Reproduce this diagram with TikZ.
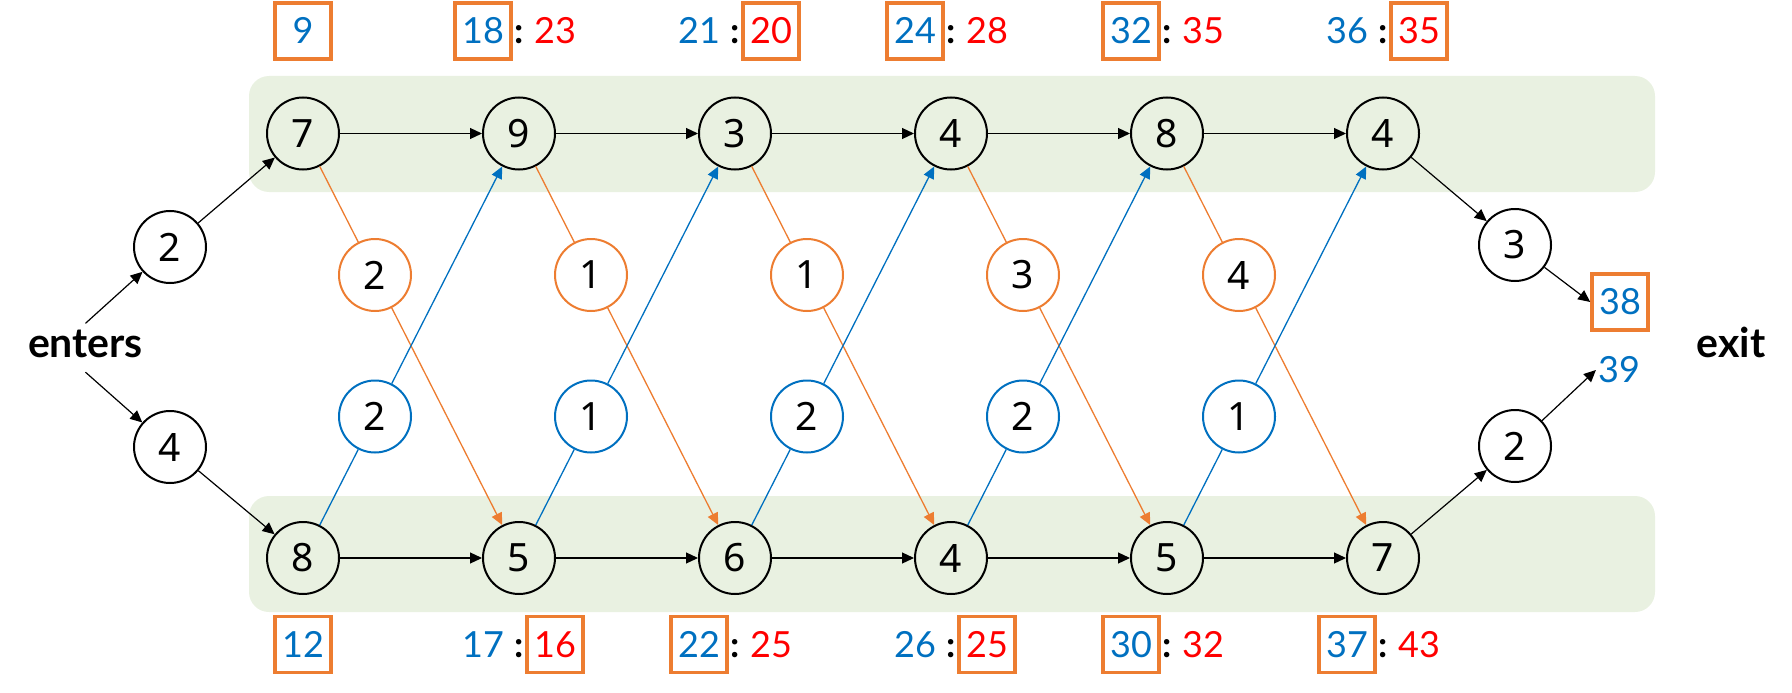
\documentclass[tikz,border=0pt]{standalone}
\usepackage{fontspec}
\setmainfont{Noto Sans}
\newfontfamily\labfamily{Lato}
\newcommand\mylabfont{\labfamily\fontsize{36}{36}\selectfont}
\newcommand\mywordfont{\labfamily\bfseries\fontsize{41}{41}\selectfont}
\newcommand\mynumfont{\fontsize{39}{39}\selectfont}
\usetikzlibrary{arrows.meta}
\definecolor{cor}{HTML}{ED7D31}
\definecolor{cbl}{HTML}{0070C0}
\definecolor{crd}{HTML}{FF0000}
\definecolor{cgr}{HTML}{E9F1E1}
\begin{document}
\begin{tikzpicture}[x=1pt,y=-1pt,
  nd/.style={circle, draw=black, line width=2pt, minimum size=72pt, inner sep=0pt, font=\mynumfont},
  ond/.style={nd, draw=cor},
  bnd/.style={nd, draw=cbl},
  tip/.style={-{Triangle[length=12pt,width=11pt]}},
  arr/.style={line width=1.2pt, black, tip},
  oline/.style={line width=1.3pt, cor},
  bline/.style={line width=1.3pt, cbl},
  lab/.style={font=\mylabfont, text height=25pt, text depth=0pt, inner sep=0pt},
  bx/.style={lab, draw=cor, line width=3.5pt, minimum width=56pt, minimum height=56pt},
  colon/.style={lab, text=black, font=\mylabfont\bfseries},
  word/.style={font=\mywordfont, anchor=base, inner sep=6pt, text depth=9pt},
  band/.style={fill=cgr, rounded corners=20pt}
]
\useasboundingbox (0,0) rectangle (1792,693);
% bands
\fill[band] (249,76) rectangle (1655,192);
\fill[band] (249,496) rectangle (1655,612);
% main nodes
\foreach \v [count=\i] in {7,9,3,4,8,4}
  \node[nd] (t\i) at ({303+216*(\i-1)},133.5) {\v};
\foreach \v [count=\i] in {8,5,6,4,5,7}
  \node[nd] (b\i) at ({303+216*(\i-1)},558) {\v};
\foreach \v [count=\i] in {2,1,1,3,4}
  \node[ond] (o\i) at ({375+216*(\i-1)},275) {\v};
\foreach \v [count=\i] in {2,1,2,2,1}
  \node[bnd] (u\i) at ({375+216*(\i-1)},416.5) {\v};
\node[nd] (l2) at (170,247) {2};
\node[nd] (l4) at (170,447) {4};
\node[nd] (r3) at (1515,245) {3};
\node[nd] (r2) at (1515,446) {2};
\node[word] (enters) at (85.5,357) {enters};
\node[word] (exit) at (1731,357) {exit};
\node[bx, text=cbl] (b38) at (1620,302) {38};
\node[lab, text=cbl, inner sep=2pt] (l39) at (1619,370) {39};
% top labels
\node[bx, text=cbl] (p1) at (303,31) {9};
\node[bx, text=cbl] (p2a) at (483,31) {18};
\node[colon] (p2c) at (519,31) {:};
\node[lab, text=crd] (p2b) at (555,31) {23};
\node[lab, text=cbl] (p3a) at (699,31) {21};
\node[colon] (p3c) at (735,31) {:};
\node[bx, text=crd] (p3b) at (771,31) {20};
\node[bx, text=cbl] (p4a) at (915,31) {24};
\node[colon] (p4c) at (951,31) {:};
\node[lab, text=crd] (p4b) at (987,31) {28};
\node[bx, text=cbl] (p5a) at (1131,31) {32};
\node[colon] (p5c) at (1167,31) {:};
\node[lab, text=crd] (p5b) at (1203,31) {35};
\node[lab, text=cbl] (p6a) at (1347,31) {36};
\node[colon] (p6c) at (1383,31) {:};
\node[bx, text=crd] (p6b) at (1419,31) {35};
% bottom labels
\node[bx, text=cbl] (q1) at (303,644.5) {12};
\node[lab, text=cbl] (q2a) at (483,644.5) {17};
\node[colon] (q2c) at (519,644.5) {:};
\node[bx, text=crd] (q2b) at (555,644.5) {16};
\node[bx, text=cbl] (q3a) at (699,644.5) {22};
\node[colon] (q3c) at (735,644.5) {:};
\node[lab, text=crd] (q3b) at (771,644.5) {25};
\node[lab, text=cbl] (q4a) at (915,644.5) {26};
\node[colon] (q4c) at (951,644.5) {:};
\node[bx, text=crd] (q4b) at (987,644.5) {25};
\node[bx, text=cbl] (q5a) at (1131,644.5) {30};
\node[colon] (q5c) at (1167,644.5) {:};
\node[lab, text=crd] (q5b) at (1203,644.5) {32};
\node[bx, text=cbl] (q6a) at (1347,644.5) {37};
\node[colon] (q6c) at (1383,644.5) {:};
\node[lab, text=crd] (q6b) at (1419,644.5) {43};
% connectors
\draw[arr] (enters.north) -- (l2);
\draw[arr] (enters.south) -- (l4);
\draw[arr] (l2) -- (t1);
\draw[arr] (l4) -- (b1);
\foreach \i [evaluate=\i as \j using int(\i+1)] in {1,...,5} {
  \draw[arr] (t\i) -- (t\j);
  \draw[arr] (b\i) -- (b\j);
  \draw[oline] (t\i) -- (o\i);
  \draw[oline, tip] (o\i) -- (b\j);
  \draw[bline] (b\i) -- (u\i);
  \draw[bline, tip] (u\i) -- (t\j);
}
\draw[arr] (t6) -- (r3);
\draw[arr] (b6) -- (r2);
\draw[arr] (r3) -- (b38.west);
\draw[arr] (r2) -- (l39.west);
\end{tikzpicture}
\end{document}
